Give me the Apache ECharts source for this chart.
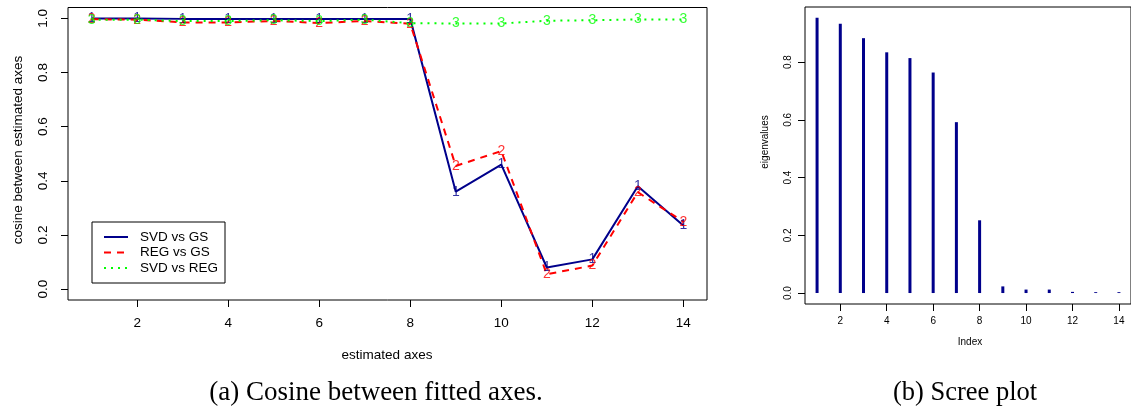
<!DOCTYPE html>
<html>
<head>
<meta charset="utf-8">
<script src="https://cdn.jsdelivr.net/npm/echarts@6/dist/echarts.min.js"></script>
<style>
html,body{margin:0;padding:0;background:#fff;}
#c{width:1131px;height:420px;}
</style>
</head>
<body>
<div id="c"></div>
<script>
// ---- data ----
var axesIdx = [1,2,3,4,5,6,7,8,9,10,11,12,13,14];
var svdVsGs  = [0.999,0.999,0.998,0.998,0.998,0.998,0.998,0.998,0.36,0.46,0.08,0.11,0.38,0.235];
var regVsGs  = [0.997,0.995,0.985,0.985,0.99,0.983,0.99,0.98,0.455,0.51,0.055,0.087,0.358,0.249];
var svdVsReg = [0.995,0.995,0.99,0.99,0.993,0.99,0.995,0.982,0.981,0.981,0.991,0.993,0.996,0.996];
var eigenvalues = [0.954,0.933,0.883,0.834,0.814,0.764,0.592,0.252,0.023,0.012,0.012,0.004,0.003,0.003];
var xTicks = [2,4,6,8,10,12,14];
var yTicksLeft = [0,0.2,0.4,0.6,0.8,1.0];
var yTicksRight = [0,0.2,0.4,0.6,0.8];
var seriesNames = ['SVD vs GS','REG vs GS','SVD vs REG'];
var seriesMarks = ['1','2','3'];

function pairs(xs, ys){ return xs.map(function(x,i){ return [x, ys[i]]; }); }

var NAVY = '#00008B', RED = '#FF0000', GREEN = '#00FF00';
var FONT = 'Liberation Sans';
var colors = [NAVY, RED, GREEN];
var dashes = ['solid', [7,6], [2,5]];
var vals = [svdVsGs, regVsGs, svdVsReg];

var series = [];
vals.forEach(function(v, k){
  series.push({
    name: seriesNames[k], type:'line', xAxisIndex:0, yAxisIndex:0,
    data: pairs(axesIdx, v), symbol:'none', animation:false,
    lineStyle:{color:colors[k], width:2, type:dashes[k]},
    itemStyle:{color:colors[k]}, z: 2+k
  });
});
vals.forEach(function(v, k){
  series.push({
    name: 'mark'+k, type:'scatter', xAxisIndex:0, yAxisIndex:0,
    data: pairs(axesIdx, v), symbol:'circle', symbolSize:1, animation:false,
    itemStyle:{color:'rgba(0,0,0,0)'}, z: 10+k, silent:true,
    label:{show:true, position:'inside', formatter: seriesMarks[k],
      color: colors[k], fontFamily: FONT, fontSize:14}
  });
});
series.push({
  name:'eigen', type:'bar', xAxisIndex:1, yAxisIndex:1,
  data: pairs(axesIdx, eigenvalues), barWidth:3, animation:false,
  itemStyle:{color:NAVY}
});

function xAx(gi, fs, margin){
  return {type:'value', gridIndex:gi, min:0.48, max:14.52,
    axisLine:{show:false, onZero:false},
    axisTick:{show:true, inside:false, length:7, customValues:xTicks, lineStyle:{color:'#000'}},
    axisLabel:{customValues:xTicks, fontFamily:FONT, fontSize:fs, color:'#000', margin:margin},
    splitLine:{show:false}};
}
function yAx(gi, mn, mx, ticks, fs, margin){
  return {type:'value', gridIndex:gi, min:mn, max:mx,
    axisLine:{show:false, onZero:false},
    axisTick:{show:true, inside:false, length:7, customValues:ticks, lineStyle:{color:'#000'}},
    axisLabel:{customValues:ticks, rotate:90, fontFamily:FONT, fontSize:fs, color:'#000', margin:margin,
      formatter:function(v){ return v.toFixed(1); }},
    splitLine:{show:false}};
}

var chart = echarts.init(document.getElementById('c'), null, {renderer:'canvas'});
chart.setOption({
  animation:false,
  backgroundColor:'#fff',
  grid:[
    {left:68, top:7.5, width:639, height:292.5, show:true, borderColor:'#000', borderWidth:1, backgroundColor:'transparent'},
    {left:805, top:7, width:332, height:297, show:true, borderColor:'#000', borderWidth:1, backgroundColor:'transparent'}
  ],
  xAxis:[ xAx(0, 13.5, 16), xAx(1, 10, 12) ],
  yAxis:[ yAx(0, -0.04, 1.04, yTicksLeft, 13.5, 18), yAx(1, -0.038, 0.991, yTicksRight, 10, 12) ],
  legend:{
    data: seriesNames, orient:'vertical', left:92, top:222,
    backgroundColor:'#fff', borderColor:'#000', borderWidth:1, borderRadius:0,
    padding:[8,7,8,11], itemWidth:24, itemHeight:14, itemGap:1.5,
    itemStyle:{opacity:0},
    textStyle:{fontFamily:FONT, fontSize:13.5, color:'#000', padding:[0,0,0,7]},
    selectedMode:false
  },
  graphic:[
    {type:'text', x:18, y:150, rotation:Math.PI/2,
      style:{text:'cosine between estimated axes', align:'center', verticalAlign:'middle', font:'13.5px "Liberation Sans"', fill:'#000'}},
    {type:'text', x:387, y:355,
      style:{text:'estimated axes', align:'center', verticalAlign:'middle', font:'13.5px "Liberation Sans"', fill:'#000'}},
    {type:'text', x:765, y:142, rotation:Math.PI/2,
      style:{text:'eigenvalues', align:'center', verticalAlign:'middle', font:'10px "Liberation Sans"', fill:'#000'}},
    {type:'text', x:970, y:342,
      style:{text:'Index', align:'center', verticalAlign:'middle', font:'10px "Liberation Sans"', fill:'#000'}},
    {type:'text', x:376, y:393,
      style:{text:'(a) Cosine between fitted axes.', align:'center', verticalAlign:'middle', font:'27px "Liberation Serif"', fill:'#000'}},
    {type:'text', x:965, y:393,
      style:{text:'(b) Scree plot', align:'center', verticalAlign:'middle', font:'26.5px "Liberation Serif"', fill:'#000'}}
  ],
  series: series
});
</script>
</body>
</html>
